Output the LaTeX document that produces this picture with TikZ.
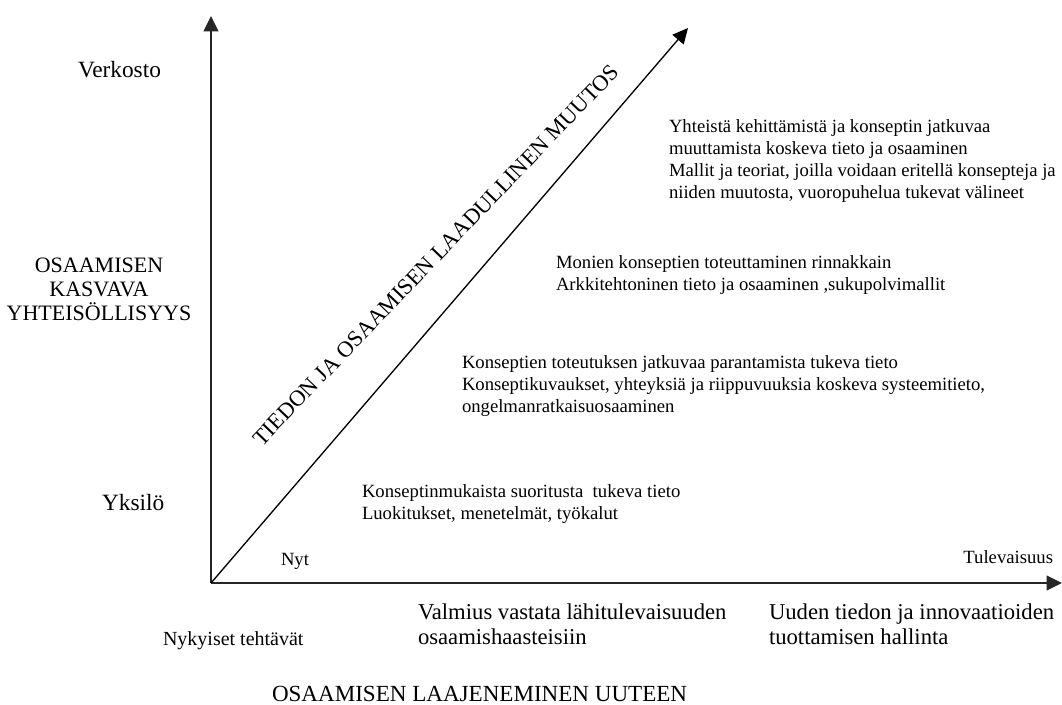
\documentclass[tikz,border=0pt]{standalone}
\usepackage{fontspec}
\setmainfont{Liberation Serif}
\usetikzlibrary{arrows.meta}
\newcommand{\fsz}[2]{\fontsize{#1}{#2}\selectfont}
\begin{document}
\begin{tikzpicture}[x=0.75pt,y=-0.75pt,
  axisline/.style={line width=1.5pt, draw=black!85, -{Triangle[length=11.5pt,width=11pt]}},
  diagline/.style={line width=1pt, draw=black, -{Triangle[length=11.5pt,width=11pt]}},
  lbl/.style={inner sep=0pt, outer sep=0pt, text=black},
  blocktext/.style={lbl, anchor=north west, align=left, font=\fsz{14}{16.3}},
  sidetext/.style={lbl, anchor=base west, font=\fsz{17.5}{19}},
  smalltext/.style={lbl, font=\fsz{14}{16}},
  bottomtext/.style={lbl, anchor=north west, align=left, font=\fsz{17}{18.5}}
]
\useasboundingbox (0,0) rectangle (1062,704);

% axes and the diagonal trend line
\coordinate (O) at (211,583);
\coordinate (Ytop) at (211,16);
\coordinate (Xend) at (1062,583);
\coordinate (Dend) at (688,28);
\draw[axisline] (O) -- (Ytop);
\draw[axisline] (O) -- (Xend);
\draw[diagline] (O) -- (Dend);

% vertical axis labels
\node[sidetext] (verkosto) at (78,77) {Verkosto};
\node[sidetext] (yksilo) at (102,510) {Yksilö};
\node[lbl, anchor=north, align=center, font=\fsz{16.5}{18}] (yaxis) at (99,258)
  {OSAAMISEN\\KASVAVA\\YHTEISÖLLISYYS};

% horizontal axis labels
\node[smalltext, anchor=base west] (nyt) at (281,565) {Nyt};
\node[smalltext, anchor=base east] (tulev) at (1053,563) {Tulevaisuus};
\node[lbl, anchor=base west, font=\fsz{15}{17}] (nykyiset) at (163,645) {Nykyiset tehtävät};
\node[bottomtext] (valmius) at (418,604) {Valmius vastata lähitulevaisuuden\\osaamishaasteisiin};
\node[bottomtext] (uuden) at (769,604) {Uuden tiedon ja innovaatioiden\\tuottamisen hallinta};
\node[lbl, anchor=base west, font=\fsz{17.3}{20}] (xaxis) at (272,701) {OSAAMISEN LAAJENEMINEN UUTEEN};

% label along the diagonal
\node[lbl, anchor=base west, rotate=46.2, font=\fsz{16.9}{19}] (muutos) at (262,447)
  {TIEDON JA OSAAMISEN LAADULLINEN MUUTOS};

% knowledge levels
\node[blocktext] (lvl1) at (362,485)
  {Konseptinmukaista suoritusta\ \ tukeva tieto\\Luokitukset, menetelmät, työkalut};
\node[blocktext] (lvl2) at (462,356)
  {Konseptien toteutuksen jatkuvaa parantamista tukeva tieto\\Konseptikuvaukset, yhteyksiä ja riippuvuuksia koskeva systeemitieto,\\ongelmanratkaisuosaaminen};
\node[blocktext] (lvl3) at (556,256)
  {Monien konseptien toteuttaminen rinnakkain\\Arkkitehtoninen tieto ja osaaminen ,sukupolvimallit};
\node[blocktext] (lvl4) at (669,120)
  {Yhteistä kehittämistä ja konseptin jatkuvaa\\muuttamista koskeva tieto ja osaaminen\\Mallit ja teoriat, joilla voidaan eritellä konsepteja ja\\niiden muutosta, vuoropuhelua tukevat välineet};
\end{tikzpicture}
\end{document}
